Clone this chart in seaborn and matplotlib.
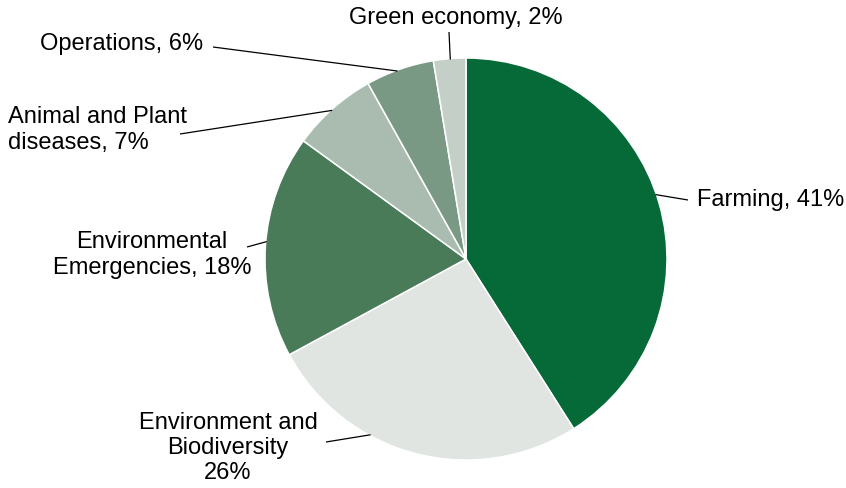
import numpy as np
import matplotlib
matplotlib.use("Agg")
import matplotlib.pyplot as plt
import seaborn as sns

# ---- data ----
categories = ["Farming", "Environment and Biodiversity", "Environmental Emergencies",
              "Animal and Plant diseases", "Operations", "Green economy"]
values = [41.0, 26.1, 17.9, 6.9, 5.5, 2.6]
labels = ["Farming, 41%", "Environment and\nBiodiversity\n26%", "Environmental\nEmergencies, 18%",
          "Animal and Plant\ndiseases, 7%", "Operations, 6%", "Green economy, 2%"]
colors = ["#066a38", "#e0e5e1", "#4a7b59", "#aabcb0", "#7a9985", "#c4cfc7"]

# ---- layout (pixel-space, y up) ----
W, H = 846, 488
cx, cy, R = 466, H - 259, 201
# leader start angle (deg), leader end point, text position, alignment
leader_angle = [18.8, 241.5, 175.0, 132.0, 110.0, 94.5]
leader_end = [(688, 200), (326, 442), (247, 247), (180, 134), (213, 47), (449, 32)]
text_pos = [(697, 200), (228, 448), (152, 255), (8, 130), (203, 44), (456, 18)]
text_ha = ["left", "center", "center", "left", "right", "center"]

sns.set_theme(style="white")
plt.rcParams["font.family"] = ["Liberation Sans", "DejaVu Sans"]

fig = plt.figure(figsize=(W / 100, H / 100), dpi=100)
ax = fig.add_axes([0, 0, 1, 1])
ax.pie(values, colors=colors, startangle=90, counterclock=False, center=(cx, cy), radius=R,
       wedgeprops=dict(edgecolor="white", linewidth=1.1), frame=True)
ax.set_xlim(0, W)
ax.set_ylim(0, H)
ax.set_aspect("equal")
ax.axis("off")

for lab, ang, le, tp, ha in zip(labels, leader_angle, leader_end, text_pos, text_ha):
    a = np.deg2rad(ang)
    x0, y0 = cx + (R - 1) * np.cos(a), cy + (R - 1) * np.sin(a)
    ax.plot([x0, le[0]], [y0, H - le[1]], color="black", lw=0.9, solid_capstyle="butt")
    ax.text(tp[0], H - tp[1], lab, ha=ha, va="center", fontsize=17, color="black",
            linespacing=1.2, multialignment="center" if ha == "center" else "left")

fig.savefig("out.png", dpi=100)
